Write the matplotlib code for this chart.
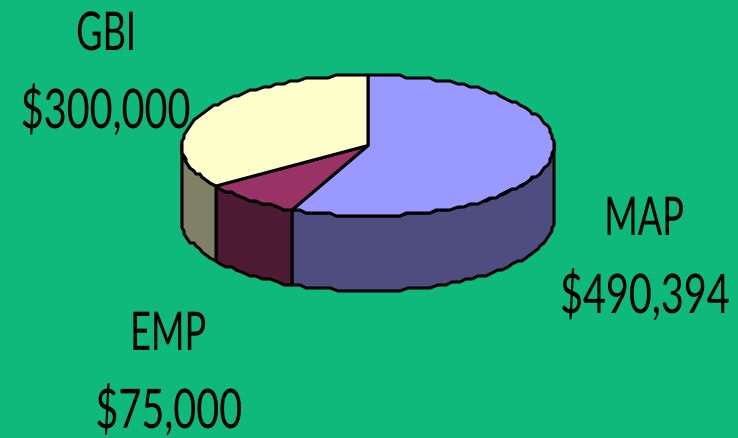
import numpy as np
import matplotlib as mpl
mpl.use('Agg')
import matplotlib.pyplot as plt
import matplotlib.patheffects as pe
from matplotlib.patches import Polygon
from matplotlib.transforms import Affine2D

names = ["MAP", "EMP", "GBI"]
amounts = [490394, 75000, 300000]
amount_labels = ["$490,394", "$75,000", "$300,000"]
top_colors = ["#9999ff", "#993366", "#ffffcc"]
side_colors = ["#4d4d80", "#4d1a33", "#808066"]
name_pos = [(644, 235), (168, 350), (106, 50)]
amount_pos = [(645, 313), (169, 428), (106, 128)]

bg = "#0fb97b"
cx, cy, rx, ry, depth = 368, 145.5, 186, 70.5, 75
edge = dict(edgecolor="black", linewidth=2.2, joinstyle="round")


# tall lettering: stretch the glyphs upward from the baseline
class TallText(pe.AbstractPathEffect):
    def __init__(self, factor):
        super().__init__()
        self.factor = factor

    def draw_path(self, renderer, gc, tpath, affine, rgbFace=None):
        base = affine.transform((0, 0))[1]
        tall = affine + Affine2D().translate(0, -base).scale(1, self.factor).translate(0, base)
        renderer.draw_path(gc, tpath, tall, rgbFace)


def rim(a0, a1, n=150):
    t = np.radians(np.linspace(a0, a1, max(int(abs(a1 - a0) / 360 * n), 2) + 1))
    # outline snapped to a coarse grid gives the stepped edge
    x = np.round((cx + rx * np.cos(t)) / 2) * 2
    y = np.round((cy - ry * np.sin(t)) / 3) * 3
    return x, y


fig = plt.figure(figsize=(7.38, 4.38), dpi=100, facecolor=bg)
ax = fig.add_axes([0, 0, 1, 1])
ax.set_xlim(0, 738)
ax.set_ylim(438, 0)
ax.axis("off")

fractions = np.array(amounts) / sum(amounts)
ends = 90 - 360 * np.cumsum(fractions)
starts = np.r_[90, ends[:-1]]

# side walls, only the front half of the ellipse is visible
for a0, a1, col in zip(starts, ends, side_colors):
    lo, hi = max(a1, -180), min(a0, 0)
    if lo >= hi:
        continue
    x, y = rim(hi, lo)
    pts = np.r_[np.c_[x, y], np.c_[x[::-1], y[::-1] + depth]]
    ax.add_patch(Polygon(pts, closed=True, facecolor=col, zorder=2, **edge))

# top wedges
for a0, a1, col in zip(starts, ends, top_colors):
    x, y = rim(a0, a1)
    pts = np.r_[[[cx, cy]], np.c_[x, y]]
    ax.add_patch(Polygon(pts, closed=True, facecolor=col, zorder=3, **edge))

font = dict(family=["Lato", "DejaVu Sans"], color="black",
            ha="center", va="baseline", zorder=4)
for i in range(len(names)):
    ax.text(*name_pos[i], names[i], fontsize=26, path_effects=[TallText(1.48)], **font)
    ax.text(*amount_pos[i], amount_labels[i], fontsize=28.5, path_effects=[TallText(1.38)], **font)

fig.savefig("out.png", dpi=100, facecolor=bg)
